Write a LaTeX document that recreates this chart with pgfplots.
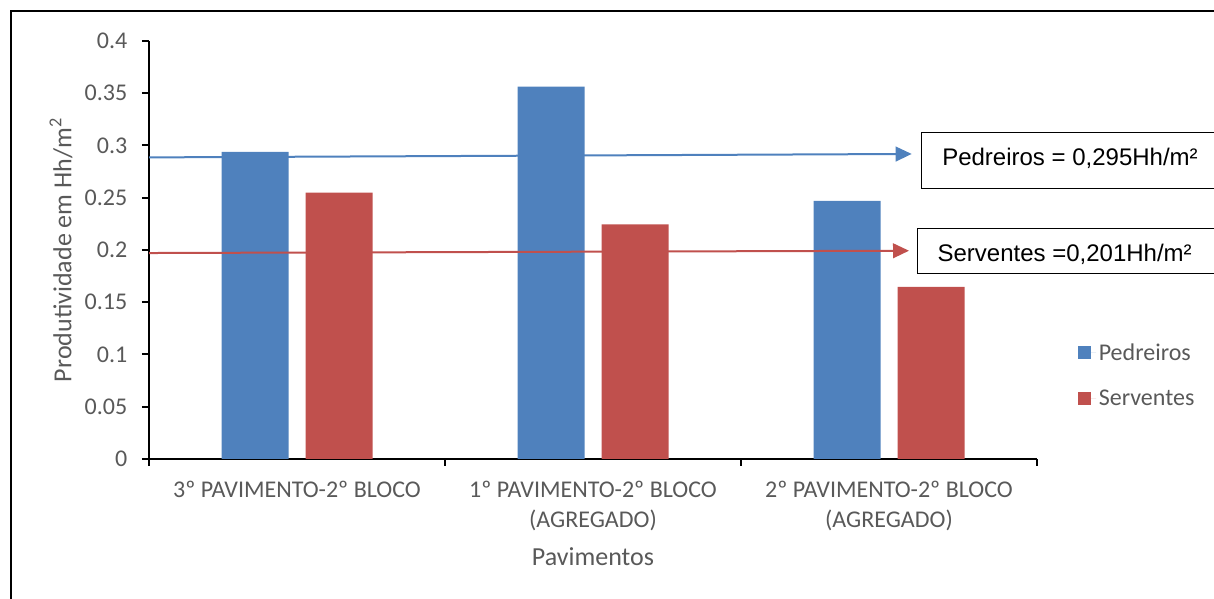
\documentclass[border=0pt]{standalone}
\usepackage{pgfplots}
\pgfplotsset{compat=1.18}
\usepackage{fontspec}
\setmainfont{Carlito}
\newfontfamily\arialfont{Liberation Sans}
\usetikzlibrary{arrows.meta}
\definecolor{cblue}{HTML}{4F81BD}
\definecolor{cred}{HTML}{C0504D}
\definecolor{tgray}{HTML}{595959}
\newcommand\axfont{\fontsize{18pt}{22.5pt}\selectfont}
\newcommand\ttlfont{\fontsize{19.5pt}{23pt}\selectfont}
\begin{document}
\begin{tikzpicture}
\path[use as bounding box] (0,0) rectangle (910.5pt,449.25pt);
\clip (0,0) rectangle (910.5pt,449.25pt);
\draw[line width=1.5pt] (8.25pt,-10pt) -- (8.25pt,441.2pt) -- (930pt,441.2pt);
\begin{axis}[
  at={(111.75pt,105pt)}, anchor=south west,
  width=666pt, height=313.5pt, scale only axis,
  xmin=-0.5, xmax=2.5, ymin=0, ymax=0.4,
  axis lines*=left,
  axis line style={line width=1.5pt, black},
  tick style={line width=1.5pt, black},
  tick align=outside, major tick length=5.25pt,
  ytick={0,0.05,0.1,0.15,0.2,0.25,0.3,0.35,0.4},
  yticklabels={0,0.05,0.1,0.15,0.2,0.25,0.3,0.35,0.4},
  xtick={-0.5,0.5,1.5,2.5},
  x tick label as interval,
  xticklabels={{3º PAVIMENTO-2º BLOCO},{1º PAVIMENTO-2º BLOCO\\(AGREGADO)},{2º PAVIMENTO-2º BLOCO\\(AGREGADO)}},
  xticklabel style={font=\axfont, text=tgray, align=center, anchor=north, yshift=-7.5pt},
  yticklabel style={font=\axfont, text=tgray, xshift=-7.5pt},
  xlabel={Pavimentos},
  xlabel style={font=\ttlfont, text=tgray, at={(axis description cs:0.5,-0.2553)}, anchor=base},
  ylabel={Produtividade em Hh/m\textsuperscript{2}},
  ylabel style={font=\ttlfont, text=tgray, at={(axis description cs:-0.0991,0.5)}, anchor=center},
  legend style={at={(axis description cs:1.0415,0.29)}, anchor=north west, draw=none, fill=none,
    font=\axfont, text=tgray, row sep=17pt},
  legend cell align=left,
]
\addplot[ybar, bar width=50.25pt, bar shift=-31.5pt, fill=cblue, draw=none,
  legend image code/.code={\fill[cblue] (0pt,-4.875pt) rectangle (9.75pt,4.875pt); \path (0pt,0pt) -- (13.5pt,0pt);}]
  coordinates {(0,0.2938) (1,0.3563) (2,0.2469)};
\addlegendentry{Pedreiros}
\addplot[ybar, bar width=50.25pt, bar shift=31.5pt, fill=cred, draw=none,
  legend image code/.code={\fill[cred] (0pt,-4.875pt) rectangle (9.75pt,4.875pt); \path (0pt,0pt) -- (13.5pt,0pt);}]
  coordinates {(0,0.2548) (1,0.2246) (2,0.1646)};
\addlegendentry{Serventes}
\addplot[forget plot, cblue, line width=1.5pt, -{Triangle[length=12pt,width=11pt]}]
  coordinates {(-0.5,0.2886) (2.0767,0.2919)};
\addplot[forget plot, cred, line width=1.5pt, -{Triangle[length=12pt,width=11pt]}]
  coordinates {(-0.5,0.1971) (2.0676,0.1993)};
\end{axis}
\draw[line width=0.75pt] (690.75pt,307.5pt) rectangle (940pt,349.5pt);
\node[anchor=base west, inner sep=0pt, font=\arialfont\fontsize{18pt}{21.6pt}\selectfont] at (706.5pt,325pt) {Pedreiros = 0,295Hh/m²};
\draw[line width=0.75pt] (687.75pt,243.75pt) rectangle (940pt,277.5pt);
\node[anchor=base west, inner sep=0pt, font=\arialfont\fontsize{18pt}{21.6pt}\selectfont] at (703pt,253pt) {Serventes =0,201Hh/m²};
\end{tikzpicture}
\end{document}
